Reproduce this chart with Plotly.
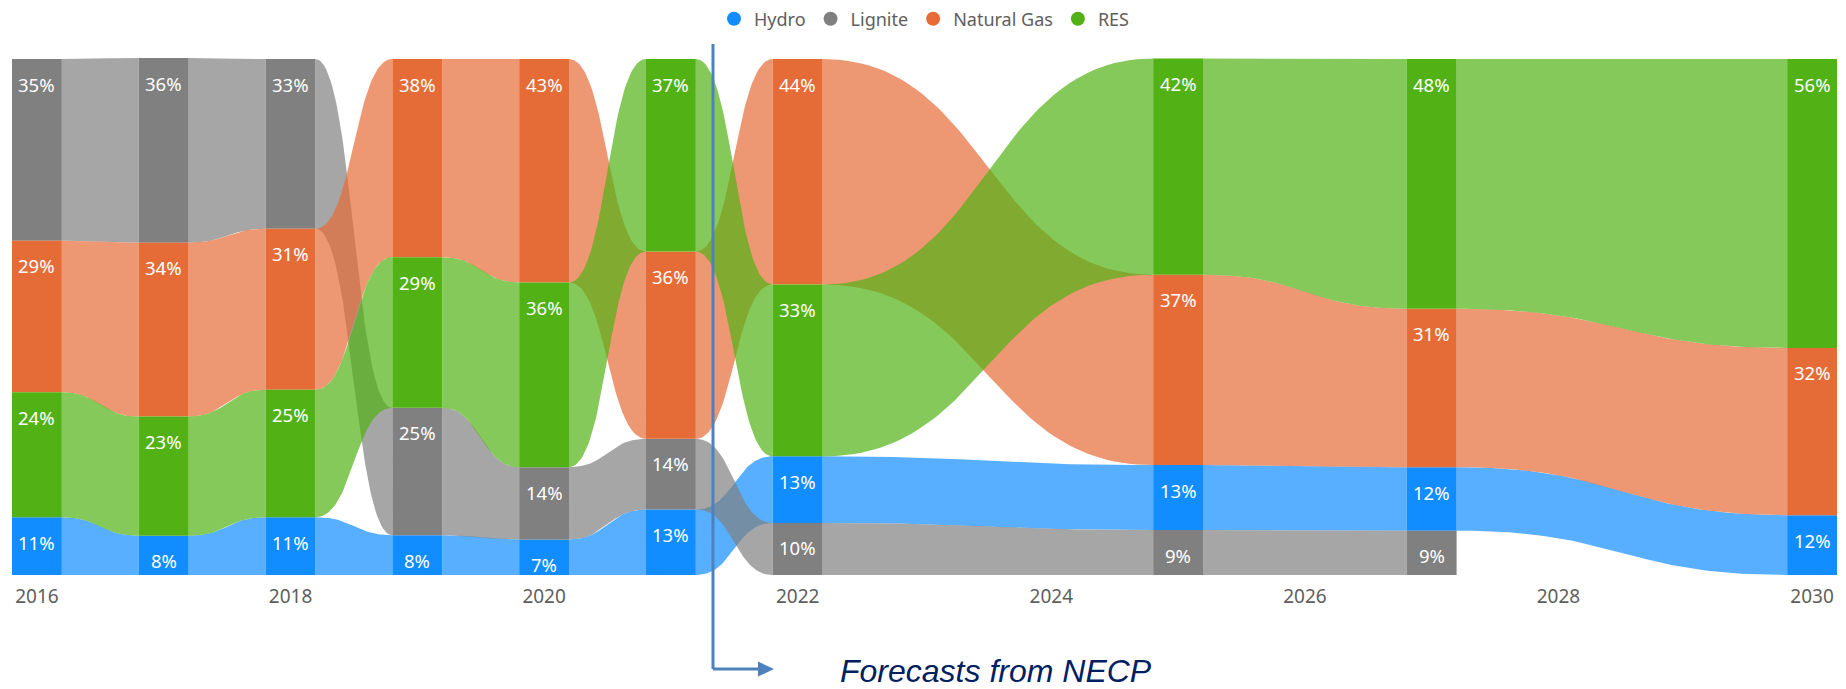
import numpy as np
import plotly.graph_objects as go

# ---------------- data ----------------
years = [2016, 2017, 2018, 2019, 2020, 2021, 2022, 2025, 2027, 2030]
series_names = ["Hydro", "Lignite", "Natural Gas", "RES"]
hydro = [11.2, 7.6, 11.2, 7.7, 6.9, 12.7, 12.9, 12.6, 12.3, 11.6]
lignite = [35.2, 35.8, 32.9, 24.7, 14.0, 13.7, 10.1, 8.7, 8.6, 0.0]
natural_gas = [29.4, 33.7, 31.2, 38.4, 43.3, 36.3, 43.7, 36.9, 30.7, 32.4]
res = [24.2, 23.1, 24.7, 29.2, 35.8, 37.3, 33.3, 41.9, 48.4, 56.0]
tick_years = [2016, 2018, 2020, 2022, 2024, 2026, 2028, 2030]
annotation_text = "Forecasts from NECP"

# ---------------- styles ----------------
bar_colors = ["#118DFF", "#808080", "#E66C37", "#52B215"]
RIBBON_ALPHA = 0.7
BW = 0.393
FONT = "Noto Sans"

values = [hydro, lignite, natural_gas, res]
ns = len(values)
ny = len(years)

# stack per year: smallest at bottom (ribbon chart ranking)
bases = [[0.0] * ny for _ in range(ns)]
for j in range(ny):
    order = sorted(range(ns), key=lambda s: values[s][j])
    cum = 0.0
    for s in order:
        bases[s][j] = cum
        cum += values[s][j]
totals = [sum(values[s][j] for s in range(ns)) for j in range(ny)]
ymax = max(totals)


def hex_rgb(h):
    h = h.lstrip("#")
    return tuple(int(h[i:i + 2], 16) for i in (0, 2, 4))


fig = go.Figure()

# ribbons (drawn in legend order, so later series overlay earlier ones)
t = np.linspace(0, 1, 60)
for s in range(ns):
    r, g, b = hex_rgb(bar_colors[s])
    fill = f"rgba({r},{g},{b},{RIBBON_ALPHA})"
    for i in range(ny - 1):
        if values[s][i] <= 0 or values[s][i + 1] <= 0:
            continue
        x0 = years[i] + BW / 2
        x1 = years[i + 1] - BW / 2
        xm = (x0 + x1) / 2
        xs = (1 - t) ** 3 * x0 + 3 * (1 - t) ** 2 * t * xm + 3 * (1 - t) * t ** 2 * xm + t ** 3 * x1
        ease = 3 * t ** 2 - 2 * t ** 3
        b0, b1 = bases[s][i], bases[s][i + 1]
        tp0, tp1 = b0 + values[s][i], b1 + values[s][i + 1]
        top = tp0 + (tp1 - tp0) * ease
        bot = b0 + (b1 - b0) * ease
        px = np.concatenate([xs, xs[::-1]])
        py = np.concatenate([top, bot[::-1]])
        fig.add_trace(go.Scatter(
            x=px, y=py, mode="lines", fill="toself", fillcolor=fill,
            line=dict(width=0), hoverinfo="skip", showlegend=False))

# bars
for s in range(ns):
    xs = [years[j] for j in range(ny) if values[s][j] > 0]
    ys = [values[s][j] for j in range(ny) if values[s][j] > 0]
    bs = [bases[s][j] for j in range(ny) if values[s][j] > 0]
    fig.add_trace(go.Bar(
        x=xs, y=ys, base=bs, width=BW, marker=dict(color=bar_colors[s], line=dict(width=0)),
        showlegend=False, hoverinfo="skip"))

# legend-only entries
for s in range(ns):
    fig.add_trace(go.Scatter(
        x=[None], y=[None], mode="markers", name=series_names[s],
        marker=dict(size=14, color=bar_colors[s], symbol="circle")))

annotations = []
for s in range(ns):
    for j in range(ny):
        v = values[s][j]
        if v <= 0:
            continue
        annotations.append(dict(
            x=years[j], y=bases[s][j] + v, xref="x", yref="y",
            text=f"{int(round(v))}%", showarrow=False, yshift=-25,
            yanchor="middle", xanchor="center",
            font=dict(family=FONT, size=18.5, color="white")))

# forecast annotation (pixel-based placement in paper coords)
L, R, T, B = 12, 9, 58, 114
W, H = 1846, 689
pw, ph = W - L - R, H - T - B


def px2x(p):
    return (p - L) / pw


def px2y(p):
    return (H - B - p) / ph


line_col = "#4F81BD"
shapes = [
    dict(type="line", xref="paper", yref="paper", x0=px2x(713), x1=px2x(713),
         y0=px2y(44), y1=px2y(669), line=dict(color=line_col, width=3)),
    dict(type="line", xref="paper", yref="paper", x0=px2x(713), x1=px2x(760),
         y0=px2y(669), y1=px2y(669), line=dict(color=line_col, width=3)),
    dict(type="path", xref="paper", yref="paper",
         path=f"M {px2x(758)} {px2y(661.5)} L {px2x(774)} {px2y(669)} L {px2x(758)} {px2y(676.5)} Z",
         fillcolor=line_col, line=dict(width=0)),
]
annotations.append(dict(
    x=px2x(838), y=px2y(671), xref="paper", yref="paper", xanchor="left", yanchor="middle",
    text=f"<i>{annotation_text}</i>", showarrow=False,
    font=dict(family="Liberation Sans", size=32, color="#002060")))

fig.update_layout(
    width=W, height=H,
    margin=dict(l=L, r=R, t=T, b=B, autoexpand=False),
    paper_bgcolor="white", plot_bgcolor="white",
    barmode="overlay",
    font=dict(family=FONT, color="#605E5C"),
    xaxis=dict(range=[years[0] - BW / 2, years[-1] + BW / 2], tickvals=tick_years,
               ticktext=[str(y) for y in tick_years], showgrid=False, zeroline=False,
               showline=False, ticks="", ticklabelstandoff=8,
               tickfont=dict(family=FONT, size=19, color="#605E5C")),
    yaxis=dict(range=[0, ymax], visible=False, showgrid=False, zeroline=False),
    legend=dict(orientation="h", x=0.5, xanchor="center", y=px2y(19), yanchor="middle",
                font=dict(family=FONT, size=18, color="#605E5C"), itemwidth=30,
                bgcolor="rgba(0,0,0,0)"),
    shapes=shapes,
    annotations=annotations,
)

fig.write_html("out.html")
